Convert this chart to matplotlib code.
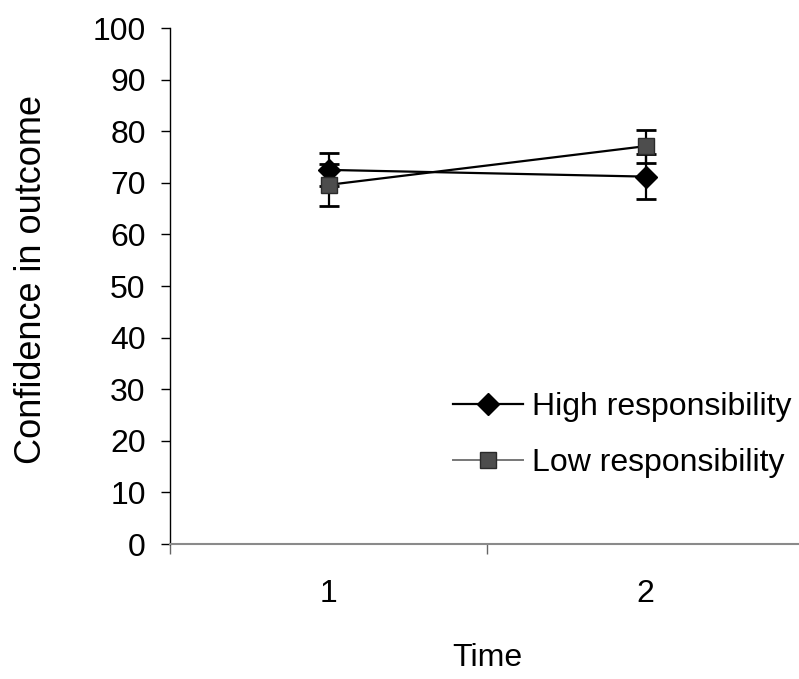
import matplotlib.pyplot as plt
from matplotlib.lines import Line2D

plt.rcParams["font.family"] = ["Liberation Sans", "DejaVu Sans"]

# Data
times = [1, 2]
time_labels = ["1", "2"]
high_mean = [72.5, 71.2]
high_err = [3.2, 4.3]
low_mean = [69.6, 77.1]
low_err = [4.1, 3.2]
y_ticks = [0, 10, 20, 30, 40, 50, 60, 70, 80, 90, 100]

fig = plt.figure(figsize=(7.99, 6.79), dpi=100)
ax = fig.add_axes([170 / 799, 1 - 544 / 679, 634 / 799, 516 / 679])

# Lines with error bars
ax.errorbar(times, high_mean, yerr=high_err, color="black", lw=1.6,
            marker="D", markersize=11, markerfacecolor="black",
            markeredgecolor="black", ecolor="black", elinewidth=1.6,
            capsize=7.2, capthick=2, zorder=3)
ax.errorbar(times, low_mean, yerr=low_err, color="black", lw=1.6,
            marker="s", markersize=11, markerfacecolor="#4d4d4d",
            markeredgecolor="#2a2a2a", ecolor="black", elinewidth=1.6,
            capsize=7.2, capthick=2, zorder=3)

ax.set_xlim(0.5, 2.5)
ax.set_ylim(0, 100)
ax.set_yticks(y_ticks)
ax.set_xticks(times)
ax.set_xticklabels(time_labels)
ax.set_xticks([0.5, 1.5, 2.5], minor=True)

ax.spines["top"].set_visible(False)
ax.spines["right"].set_visible(False)
ax.spines["left"].set_linewidth(1.0)
ax.spines["bottom"].set_color("#8a8a8a")
ax.spines["bottom"].set_linewidth(1.5)

ax.tick_params(axis="y", direction="out", length=6.5, width=1.0,
               pad=11, labelsize=23)
ax.tick_params(axis="x", which="major", length=0, pad=25, labelsize=23)
ax.tick_params(axis="x", which="minor", direction="out", length=7,
               width=1.0, color="#666666")

ax.set_xlabel("Time", fontsize=23, va="top")
ax.xaxis.set_label_coords(0.5, -0.192)
ax.set_ylabel("Confidence in outcome", fontsize=26, va="center", ha="center")
ax.yaxis.set_label_coords(-0.218, 0.512)

# Legend
handles = [
    Line2D([0], [0], color="black", lw=1.6, marker="D", markersize=11,
           markerfacecolor="black", markeredgecolor="black"),
    Line2D([0], [0], color="#777777", lw=1.4, marker="s", markersize=11,
           markerfacecolor="#4d4d4d", markeredgecolor="#2a2a2a"),
]
fig.legend(handles, ["High responsibility", "Low responsibility"],
           loc="center left", bbox_to_anchor=(453 / 799, 1 - 435 / 679),
           frameon=False, fontsize=23, handlelength=2.2, handletextpad=0.28,
           labelspacing=0.82, borderpad=0, borderaxespad=0)

fig.savefig("out.png", dpi=100, facecolor="white")
